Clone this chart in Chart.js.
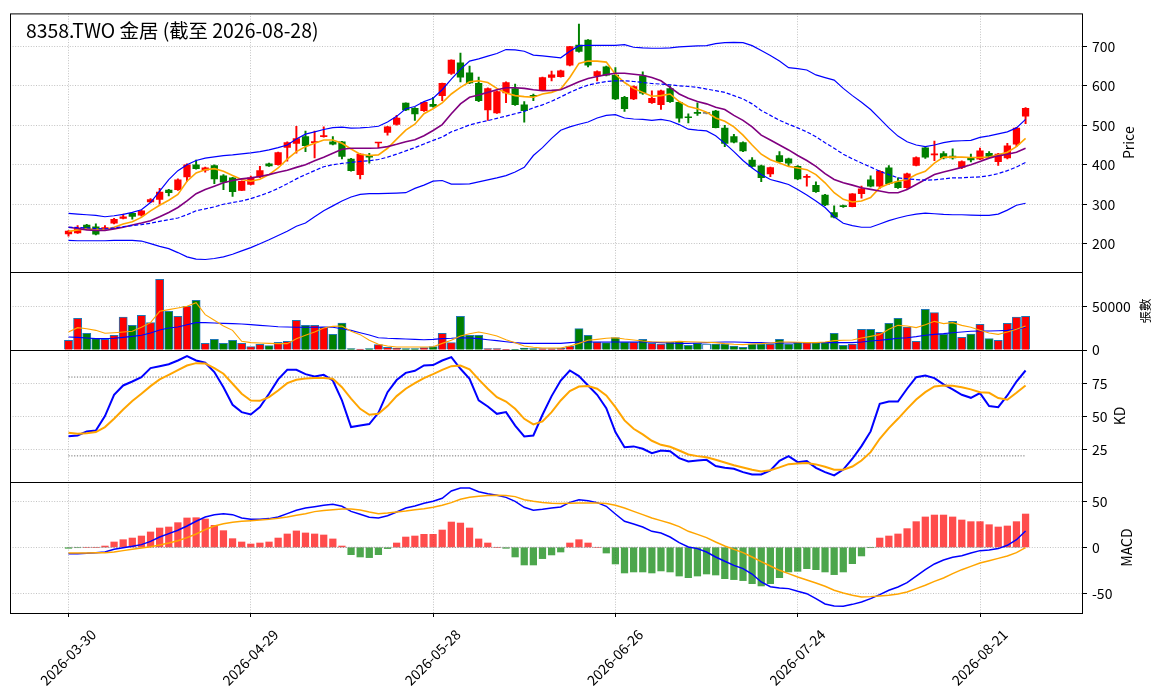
<!DOCTYPE html>
<html><head><meta charset="utf-8">
<script src="https://cdn.jsdelivr.net/npm/chart.js@4.4.1/dist/chart.umd.min.js"></script>
<style>
html,body{margin:0;padding:0;background:#fff;}
#wrap{position:relative;width:1163px;height:698px;overflow:hidden;background:#fff;}
#wrap canvas{position:absolute;left:0;top:0;}
</style></head><body>
<div id="wrap">
<canvas id="cPrice" width="1163" height="698"></canvas>
<canvas id="cVol" width="1163" height="698"></canvas>
<canvas id="cKD" width="1163" height="698"></canvas>
<canvas id="cMACD" width="1163" height="698"></canvas>
</div>
<script>
// ---------------- data ----------------
const TITLE = "8358.TWO 金居 (截至 2026-08-28)";
const dates = [
"2026-03-30","2026-03-31","2026-04-01","2026-04-02","2026-04-07","2026-04-08","2026-04-09","2026-04-10","2026-04-13","2026-04-14",
"2026-04-15","2026-04-16","2026-04-17","2026-04-20","2026-04-21","2026-04-22","2026-04-23","2026-04-24","2026-04-27","2026-04-28",
"2026-04-29","2026-04-30","2026-05-04","2026-05-05","2026-05-06","2026-05-07","2026-05-08","2026-05-11","2026-05-12","2026-05-13",
"2026-05-14","2026-05-15","2026-05-18","2026-05-19","2026-05-20","2026-05-21","2026-05-22","2026-05-25","2026-05-26","2026-05-27",
"2026-05-28","2026-05-29","2026-06-01","2026-06-02","2026-06-03","2026-06-04","2026-06-05","2026-06-08","2026-06-09","2026-06-10",
"2026-06-11","2026-06-12","2026-06-15","2026-06-16","2026-06-17","2026-06-18","2026-06-22","2026-06-23","2026-06-24","2026-06-25",
"2026-06-26","2026-06-29","2026-06-30","2026-07-01","2026-07-02","2026-07-03","2026-07-06","2026-07-07","2026-07-08","2026-07-09",
"2026-07-10","2026-07-13","2026-07-14","2026-07-15","2026-07-16","2026-07-17","2026-07-20","2026-07-21","2026-07-22","2026-07-23",
"2026-07-24","2026-07-27","2026-07-28","2026-07-29","2026-07-30","2026-07-31","2026-08-03","2026-08-04","2026-08-05","2026-08-06",
"2026-08-07","2026-08-10","2026-08-11","2026-08-12","2026-08-13","2026-08-14","2026-08-17","2026-08-18","2026-08-19","2026-08-20",
"2026-08-21","2026-08-24","2026-08-25","2026-08-26","2026-08-27","2026-08-28"];
const xTickIdx = [0,20,40,60,80,100];

const open = [
225,227,247,243,238,252,264,277,272,306, 312,336,337,369,400,386,398,372,367,335,
350,369,402,400,444,454,471,456,471,458, 458,414,375,423,455,482,502,556,543,537,
553,575,631,658,633,606,539,531,582,593, 552,575,589,621,623,652,703,716,625,648,
627,571,567,625,557,552,593,558,521,532, 530,536,493,471,456,412,397,377,423,415,
396,368,348,323,279,296,294,327,362,346, 392,357,342,398,443,425,428,422,393,417,
414,429,408,417,452,523];
const high = [
233,246,249,250,246,264,275,279,285,314, 340,338,364,402,412,394,400,375,368,359,
371,396,404,432,458,497,485,485,496,471, 459,416,428,429,457,497,525,557,545,559,
571,607,666,683,650,622,595,587,610,604, 560,579,622,637,640,700,756,717,638,650,
646,573,600,635,587,589,600,560,529,557, 531,538,500,477,458,418,399,394,433,417,
398,375,357,325,296,298,327,346,372,385, 398,367,379,420,445,460,433,440,410,427,
442,433,429,454,495,545];
const low = [
219,226,236,222,236,250,263,262,270,304, 300,321,335,358,389,381,352,337,320,334,
349,367,396,399,409,429,433,417,470,450, 415,384,364,404,443,475,500,537,512,535,
546,562,629,610,605,560,512,530,557,550, 508,562,588,612,622,650,685,648,612,625,
565,535,565,578,555,540,558,508,506,525, 529,493,446,455,433,394,357,370,406,396,
362,346,330,296,265,292,293,315,344,340, 350,340,340,397,416,410,415,414,390,407,
413,419,398,415,446,504];
const close = [
232,240,238,224,240,262,268,269,283,312, 331,329,362,400,390,392,364,356,332,358,
367,385,397,431,456,466,448,458,474,452, 421,385,427,419,456,496,518,539,529,558,
548,606,665,622,607,562,593,585,608,552, 537,573,621,628,638,699,687,652,636,627,
567,542,598,581,568,587,560,518,519,530, 530,494,454,457,435,396,367,393,408,404,
364,370,332,298,267,294,326,339,346,383, 352,342,377,418,419,427,417,417,408,412,
435,421,427,448,493,543];
const volume = [
11000,36300,19100,13000,12200,16800,37800,28200,39700,31300, 80900,44300,38600,50000,56900,7600,12200,7600,11100,7600,
3800,6500,5000,8800,9900,34000,28200,28200,26300,17900, 30900,1500,1100,1500,6100,3100,2300,1500,1500,2700,
3800,19100,8400,38600,16800,16800,1500,1500,800,800, 2300,1500,1500,1500,1900,4600,24400,16800,9200,8400,
14100,9200,9200,12200,7600,6900,9200,9900,5300,7600, 6900,6900,6900,4600,3100,6900,6900,6900,12200,6900,
8400,8400,8400,8400,19100,5300,6900,23700,23700,20200, 30500,36300,26300,9900,46600,42800,17900,32800,14500,18300,
29400,13000,11100,30500,37800,38600];

const ma5 = [
230.8,235.0,237.5,236.7,235.8,241.7,250.0,255.8,266.7,283.3, 297.5,310.0,325.0,358.3,379.2,387.5,390.0,383.3,372.5,362.5,
358.3,363.3,375.0,391.7,414.2,433.3,445.8,454.2,462.5,462.5, 454.2,440.0,426.7,423.3,425.0,441.7,465.0,487.5,502.5,529.2,
541.7,556.7,579.2,595.8,610.0,612.5,608.3,593.3,581.7,575.0, 572.5,570.8,579.2,583.3,591.7,620.8,656.7,662.5,662.5,660.0,
629.2,608.3,593.3,583.3,573.3,575.0,579.2,560.0,547.5,541.7, 533.3,518.3,510.0,495.8,475.0,450.0,426.7,412.5,404.2,395.8,
391.7,387.5,375.0,354.2,329.2,312.5,305.8,308.3,316.7,341.7, 351.7,358.3,362.5,375.0,383.3,404.2,419.2,419.2,419.2,418.3,
418.3,419.2,425.0,431.7,445.8,466.7];
const ma10 = [
241.7,238.3,235.0,233.3,233.3,237.5,241.7,247.5,252.5,258.3, 268.3,279.2,291.7,308.3,326.7,337.5,345.8,354.2,360.0,364.2,
366.7,370.0,375.0,380.8,385.8,393.3,400.0,410.0,419.2,429.2, 439.2,441.7,441.7,441.7,442.5,445.8,451.7,458.3,463.3,473.3,
486.7,501.7,529.2,554.2,570.8,576.7,583.3,590.0,595.0,595.0, 593.3,590.0,587.5,588.3,590.0,600.0,610.0,618.3,623.3,628.3,
631.7,631.7,629.2,626.7,620.8,612.5,595.8,579.2,568.3,560.0, 554.2,545.8,540.0,525.0,512.5,495.8,475.0,462.5,450.0,437.5,
423.3,410.8,395.8,377.5,362.5,354.2,348.3,341.7,337.5,333.3, 329.2,329.2,337.5,350.0,362.5,375.0,381.7,387.5,393.3,400.0,
408.3,416.7,422.5,426.7,431.7,441.7];
const ma20 = [
241.7,240.8,240.0,238.3,237.5,240.0,243.3,245.8,248.3,251.7, 256.7,260.8,265.0,273.3,283.3,288.3,293.3,300.0,304.2,308.3,
314.2,321.7,330.0,340.0,351.7,364.2,375.0,385.0,395.0,400.0, 403.3,405.8,408.3,410.0,413.3,419.2,426.7,435.0,443.3,452.5,
461.7,470.0,483.3,491.7,500.8,506.7,511.7,517.5,523.3,529.2, 535.0,544.2,551.7,560.8,571.7,583.3,593.3,601.7,606.7,610.8,
612.5,612.5,610.8,608.3,605.8,604.2,602.5,600.0,598.3,595.8, 591.7,587.5,583.3,575.0,566.7,554.2,537.5,525.0,512.5,502.5,
493.3,483.3,470.8,455.8,441.7,426.7,415.0,404.2,394.2,383.3, 375.0,366.7,364.2,362.5,360.8,361.7,364.2,366.7,366.7,368.3,
369.2,372.5,377.5,385.0,394.2,405.8];
const bbUpper = [
276.7,275.0,273.3,271.7,268.3,270.8,274.2,279.2,285.8,304.2, 333.3,362.5,385.0,400.0,410.8,416.7,420.0,423.3,425.0,427.5,
430.0,433.3,437.5,443.3,450.0,465.0,477.5,483.3,489.2,494.2, 495.0,492.5,493.3,495.0,497.5,508.3,522.5,541.7,547.5,560.0,
568.3,590.0,616.7,641.7,662.5,668.3,675.0,681.7,691.7,690.8, 687.5,677.5,675.8,673.3,670.8,687.5,701.7,702.5,702.5,702.5,
702.5,704.2,697.5,695.8,695.0,695.0,695.8,698.3,700.0,700.8, 701.7,706.7,709.2,710.0,709.2,701.7,689.2,676.7,662.5,645.8,
643.3,640.0,627.5,620.8,614.2,593.3,575.0,558.3,540.0,516.7, 493.3,472.5,458.3,450.0,445.8,450.0,455.8,460.0,460.8,461.7,
469.2,473.3,478.3,483.3,493.3,515.0];
const bbLower = [
208.3,207.5,207.5,207.5,207.5,208.3,208.3,208.3,206.7,200.0, 193.3,187.5,177.5,166.7,160.8,160.0,162.5,166.7,173.3,181.7,
190.0,200.0,210.0,220.8,231.7,244.2,252.5,268.3,283.3,295.8, 308.3,318.3,325.0,326.7,326.7,327.5,328.3,329.2,340.0,348.3,
358.3,360.0,350.8,350.8,351.7,356.7,361.7,366.7,372.5,381.7, 393.3,423.3,443.3,466.7,487.5,495.8,502.5,508.3,518.3,525.0,
526.7,518.3,515.8,515.0,512.5,515.0,510.8,501.7,490.0,487.5, 485.8,473.3,454.2,433.3,410.8,391.7,375.0,362.5,356.7,350.0,
337.5,323.3,308.3,291.7,268.3,251.7,245.8,241.7,241.7,250.0, 258.3,265.0,270.8,275.0,277.5,275.8,274.2,273.3,273.3,272.5,
271.7,271.7,275.0,285.0,297.5,302.5];

const volMa5 = [
20600,25600,24400,22500,19100,19800,20600,21400,26000,31300, 44300,46200,48100,50000,54200,40500,34000,27500,22500,9900,
8400,8000,7600,7300,7300,13000,16800,20600,25200,27100, 27500,21400,17600,11100,6500,4600,3400,3400,3400,3400,
3800,7600,11100,16000,18700,20600,18700,16000,11800,8400, 4600,3100,2300,2300,2300,4600,7600,11100,12200,13400,
14100,12600,11500,10300,9500,9200,9200,9900,9500,9200, 8800,8400,7300,6500,6100,6900,7300,8000,9200,9200,
8800,8400,8400,9200,10700,11100,11500,13700,15600,17600, 23700,28200,27500,25600,29000,32800,30200,31300,28200,26000,
22500,19500,17900,20600,23700,27500];
const volMa20 = [
14900,14500,13700,13000,13000,13400,14500,15600,16800,19500, 22900,25200,26300,29000,31300,31300,30900,30500,30200,29800,
29000,28200,27500,26700,26300,26000,26000,26000,26300,26000, 24400,22500,19800,17200,14100,13400,13000,12600,12200,11800,
12200,13000,13400,14100,13700,13000,11800,10700,9500,8400, 7600,7600,7600,7600,7600,8400,9200,9200,9200,9200,
9200,9200,9200,9200,8800,8400,8000,7600,7600,8000, 8400,8800,9200,9200,8800,8400,8400,8000,8000,8000,
8400,8400,8400,8400,8400,8400,8400,9200,10300,11100, 12200,13400,14100,15300,16800,17900,18700,19800,20600,21400,
21800,21800,22100,22500,23700,26000];

const kLine = [
35.0,35.5,38.6,39.3,50.3,66.5,73.6,76.6,79.9,86.8, 88.3,89.8,92.6,95.9,92.6,90.9,83.8,72.3,58.9,53.3,
51.5,57.1,67.3,78.2,85.5,85.5,82.2,80.5,81.7,77.4, 62.2,41.9,43.1,44.2,52.8,68.5,77.7,83.2,84.8,88.8,
89.1,92.6,95.2,86.3,78.7,62.2,57.6,52.0,53.3,43.1, 34.8,35.5,51.3,65.5,77.4,85.0,80.7,73.6,66.5,56.3,
38.1,26.6,27.2,25.4,22.1,24.1,23.6,18.3,15.7,16.5, 17.0,12.2,10.9,10.2,7.6,5.8,5.8,8.9,16.2,19.8,
15.2,16.0,10.9,7.6,5.1,9.6,17.8,27.4,38.6,59.6, 61.4,61.4,71.1,79.9,81.2,79.2,74.4,70.6,66.5,64.2,
67.8,57.9,57.1,66.0,76.6,85.0];
const dLine = [
37.6,36.8,37.3,38.1,41.9,48.2,55.3,61.7,67.3,73.1, 78.2,81.7,85.3,88.8,90.6,90.4,86.8,82.5,74.9,67.3,
62.2,61.9,64.7,69.8,75.4,77.9,78.9,79.2,79.2,78.7, 72.3,63.5,55.8,51.3,52.0,57.9,65.5,71.1,75.4,79.2,
82.2,85.5,88.3,88.8,85.8,78.2,71.1,64.7,61.4,55.8, 48.2,43.9,46.2,53.3,62.2,69.3,72.8,73.1,71.1,66.0,
57.1,47.0,40.6,36.3,31.5,28.4,26.9,24.1,21.1,19.8, 19.0,17.0,15.0,12.9,11.2,9.4,8.1,9.1,11.2,13.7,
14.2,14.5,13.5,11.7,9.4,9.4,11.9,16.5,22.8,33.0, 41.1,48.2,55.8,62.9,68.5,72.8,73.6,73.4,72.3,70.6,
68.5,68.0,64.0,62.7,68.0,73.6];
const kdRefLevels = [80, 20];

const dif = [
-6.9,-6.9,-6.5,-5.8,-5.1,-2.2,-0.4,1.1,2.9,6.5, 11.2,14.9,18.5,23.2,28.3,33.0,35.5,36.6,35.5,31.9,
30.4,30.4,31.2,33.0,36.6,40.2,42.8,44.2,45.7,46.7, 44.6,39.1,35.9,32.6,31.9,34.4,38.4,42.8,44.9,47.8,
50.0,53.3,61.2,64.5,64.5,60.5,58.3,56.5,54.3,50.0, 43.5,40.2,41.3,42.8,43.8,48.9,51.8,50.7,48.6,44.6,
36.2,28.3,25.4,22.1,17.4,15.6,11.2,5.1,0.4,-1.4, -5.1,-10.5,-15.2,-19.6,-23.2,-29.0,-37.7,-42.8,-44.2,-44.9,
-47.8,-50.4,-55.8,-61.6,-63.8,-64.1,-62.0,-59.4,-55.8,-51.4, -46.7,-43.1,-38.4,-31.2,-24.3,-18.1,-13.8,-10.9,-9.1,-6.2,
-3.6,-2.9,-1.4,2.2,8.3,17.8];
const dea = [
-6.2,-6.2,-6.2,-5.8,-5.8,-5.1,-3.6,-2.2,-0.7,0.7, 2.5,4.7,7.2,10.5,14.5,19.2,23.2,25.7,27.2,28.3,
29.0,29.7,30.4,31.5,33.0,34.8,36.6,38.8,39.9,40.9, 41.7,41.7,40.6,38.4,36.6,37.3,38.4,39.5,40.9,42.0,
43.5,45.7,48.6,52.2,54.3,55.4,56.2,56.5,56.2,55.1, 51.8,50.0,48.6,47.8,47.5,47.8,48.2,48.2,48.2,47.5,
45.7,42.8,39.1,35.5,31.9,29.0,26.1,22.5,17.4,14.1, 10.5,5.8,1.4,-2.2,-5.8,-10.5,-15.6,-20.3,-25.0,-28.6,
-32.2,-35.5,-38.8,-42.4,-46.7,-49.6,-52.2,-54.0,-53.6,-52.9, -52.2,-50.7,-48.6,-44.9,-41.3,-37.0,-33.3,-28.6,-24.3,-20.7,
-17.0,-14.5,-12.0,-9.4,-5.8,-0.4];
const hist = [
-1.1,-0.4,0,0,1.4,5.8,8.3,10.1,12.3,16.7, 21.0,22.1,26.8,31.9,32.2,30.8,23.9,18.1,9.4,5.8,
3.6,4.7,5.8,10.1,14.5,17.8,15.6,14.5,13.4,9.1, 1.4,-8.0,-10.5,-11.2,-8.0,-1.4,4.7,11.2,12.3,14.1,
14.1,18.8,27.5,26.4,21.0,9.1,4.7,0,-1.1,-10.5, -19.2,-19.2,-12.3,-8.3,-5.1,4.7,8.3,4.7,0,-6.2,
-18.1,-27.9,-26.8,-26.8,-27.9,-25.7,-26.8,-31.2,-33.0,-31.2, -29.0,-30.1,-34.1,-35.1,-36.2,-39.5,-42.0,-39.5,-33.0,-26.8,
-26.1,-23.2,-24.3,-26.8,-29.7,-26.8,-17.8,-9.4,-0.3,10.1, 12.3,14.5,20.3,27.9,33.0,35.1,35.1,33.0,29.7,27.9,
27.9,24.6,22.1,23.2,27.9,36.2];
const macdZero = [0];

const priceTicks = [200,300,400,500,600,700];
const volTicks = [0,50000];
const kdTicks = [25,50,75];
const macdTicks = [-50,0,50];

// ---------------- layout / style ----------------
const FONT = "'Noto Sans CJK TC','Noto Sans CJK SC','Noto Sans',sans-serif";
Chart.defaults.font.family = FONT;
Chart.defaults.font.size = 14;
Chart.defaults.color = '#000';

const W = 1163, H = 698;
const PLOT_L = 10, PLOT_R = 1083;
const X0 = 68.5, DX = 9.115;
const xMin = (PLOT_L - X0) / DX, xMax = (PLOT_R - X0) / DX;
const GRID_COLOR = 'rgba(0,0,0,0.30)';
const GRID_DASH = [1, 1.6];
const UP = '#ff0000', DOWN = '#008000';

const idx = dates.map((_, i) => i);
const pts = arr => idx.map(i => ({x: i, y: arr[i]}));
const candleCol = idx.map(i => close[i] > open[i] ? UP : (close[i] < open[i] ? DOWN : '#808080'));
const volCol = idx.map(i => close[i] > open[i] ? UP : (close[i] < open[i] ? DOWN : '#ffffff'));

function xScale(show) {
  return {
    type: 'linear', min: xMin, max: xMax, offset: false, bounds: 'data',
    grid: {color: GRID_COLOR, lineWidth: 0.8, offset: false, drawTicks: show,
           tickColor: '#000', tickLength: 4, tickWidth: 1},
    border: {display: false, dash: GRID_DASH},
    ticks: {display: show, autoSkip: false, maxRotation: 45, minRotation: 45,
            padding: 9, labelOffset: 25, font: {size: 14},
            callback: v => (dates[v] !== undefined ? dates[v] : '')},
    afterBuildTicks: s => { s.ticks = xTickIdx.map(v => ({value: v})); },
    afterFit: s => { s.height = show ? H - 613 : 0; }
  };
}
function yScale(min, max, ticks) {
  return {
    position: 'right', min, max, bounds: 'data',
    grid: {color: GRID_COLOR, lineWidth: 0.8, drawTicks: true, tickColor: '#000', tickLength: 4, tickWidth: 1},
    border: {display: false, dash: GRID_DASH},
    ticks: {padding: 5, autoSkip: false, callback: v => String(v), font: {size: 14}},
    afterBuildTicks: s => { s.ticks = ticks.map(v => ({value: v})); },
    afterFit: s => { s.width = W - PLOT_R; }
  };
}

const decor = {
  id: 'decor',
  afterDatasetsDraw(chart, args, o) {
    const {ctx, chartArea: a} = chart;
    ctx.save();
    ctx.strokeStyle = '#000'; ctx.lineWidth = 1;
    ctx.strokeRect(a.left + 0.5, a.top + 0.5, a.right - a.left - 1, a.bottom - a.top);
    if (o.ylabel) {
      ctx.save();
      ctx.translate(o.ylabel.x, (a.top + a.bottom) / 2);
      ctx.rotate(-Math.PI / 2);
      ctx.font = o.ylabel.size + 'px ' + FONT;
      ctx.fillStyle = '#000'; ctx.textAlign = 'center'; ctx.textBaseline = 'middle';
      ctx.fillText(o.ylabel.text, 0, 0);
      ctx.restore();
    }
    if (o.title) {
      ctx.font = '19.4px ' + FONT;
      ctx.fillStyle = '#000'; ctx.textAlign = 'left'; ctx.textBaseline = 'middle';
      ctx.fillText(o.title, 26, 31);
    }
    ctx.restore();
  }
};

function makeChart(id, top, bottom, showX, yMin, yMax, yTicks, datasets, decorOpts) {
  return new Chart(document.getElementById(id), {
    type: 'bar',
    data: {datasets},
    options: {
      responsive: false, animation: false, events: [],
      layout: {autoPadding: false, padding: {left: PLOT_L, right: 0, top: top, bottom: showX ? 0 : H - bottom}},
      plugins: {legend: {display: false}, tooltip: {enabled: false}, decor: decorOpts},
      scales: {x: xScale(showX), y: yScale(yMin, yMax, yTicks)}
    },
    plugins: [decor]
  });
}

const line = (arr, color, width, extra) => Object.assign({
  type: 'line', data: pts(arr), borderColor: color, borderWidth: width,
  pointRadius: 0, tension: 0, fill: false, order: 0
}, extra || {});

// ---- price panel ----
makeChart('cPrice', 10, 272, false, 128.3, 783.3, priceTicks, [
  {type: 'bar', data: idx.map(i => ({x: i, y: [low[i], high[i]]})), backgroundColor: candleCol,
   barThickness: 1.3, grouped: false, order: 3},
  {type: 'bar', data: idx.map(i => ({x: i, y: [open[i], close[i]]})), backgroundColor: candleCol,
   barThickness: 6.6, minBarLength: 1, grouped: false, order: 2},
  line(bbUpper, '#0000ff', 1.2),
  line(bbLower, '#0000ff', 1.2),
  line(ma20, '#0000ff', 1.2, {borderDash: [4, 2]}),
  line(ma10, '#800080', 1.6),
  line(ma5, '#ffa500', 1.6)
], {title: TITLE, ylabel: {text: 'Price', x: 1128.5, size: 14}});

// ---- volume panel ----
makeChart('cVol', 272, 350, false, 0, 89300, volTicks, [
  {type: 'bar', data: pts(volume), backgroundColor: volCol, borderColor: '#1f77b4', borderWidth: 1,
   barThickness: 8.2, grouped: false, order: 2},
  line(volMa5, '#ffa500', 1.1),
  line(volMa20, '#0000ff', 1.1)
], {ylabel: {text: '張數', x: 1145.5, size: 12.5}});

// ---- KD panel ----
makeChart('cKD', 350, 482, false, 0.1, 100.6, kdTicks, [
  ...kdRefLevels.map(lv => ({type: 'line', data: [{x: 0, y: lv}, {x: idx.length - 1, y: lv}],
    borderColor: '#707070', borderWidth: 1, borderDash: [1.2, 1.6], pointRadius: 0, order: 1})),
  line(dLine, '#ffa500', 2),
  line(kLine, '#0000ff', 2)
], {ylabel: {text: 'KD', x: 1120, size: 14}});

// ---- MACD panel ----
makeChart('cMACD', 482, 613, true, -71.4, 71.0, macdTicks, [
  {type: 'bar', data: pts(hist),
   backgroundColor: hist.map(v => v >= 0 ? 'rgba(255,0,0,0.7)' : 'rgba(0,128,0,0.7)'),
   barThickness: 6.6, grouped: false, order: 2},
  ...macdZero.map(lv => ({type: 'line', data: [{x: 0, y: lv}, {x: idx.length - 1, y: lv}],
    borderColor: '#909090', borderWidth: 1, borderDash: [1.2, 1.6], pointRadius: 0, order: 1})),
  line(dea, '#ffa500', 1.5),
  line(dif, '#0000ff', 1.5)
], {ylabel: {text: 'MACD', x: 1127, size: 14}});
</script>
</body></html>
